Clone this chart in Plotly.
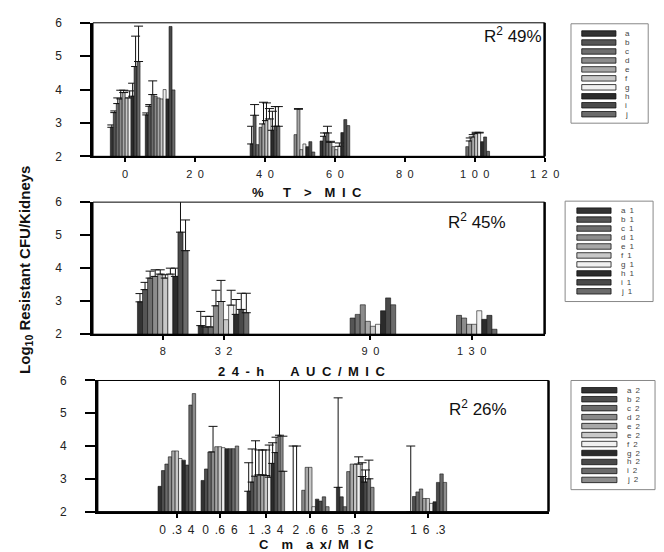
import numpy as np
import plotly.graph_objects as go

# ---------------- Panel 1 : % T > MIC ----------------
t_mic = [0, 10, 40, 50, 60, 100]
t_ticks = [0, 20, 40, 60, 80, 100, 120]
t_tick_text = ["0", "2 0", "4 0", "6 0", "8 0", "1 0 0", "1 2 0"]
t_names = ["a", "b", "c", "d", "e", "f", "g", "h", "i", "j"]
t_heights = [
    [2.87, 3.24, 2.37, None, 2.46, None],
    [3.31, 3.50, 3.23, None, 2.60, None],
    [3.58, 3.85, 2.35, None, 2.70, 2.29],
    [3.72, 3.80, 2.87, 2.65, 2.42, 2.46],
    [3.91, 3.75, 2.97, 3.41, 2.29, 2.58],
    [3.75, 3.72, 3.07, 2.20, 2.20, 2.68],
    [3.75, 4.00, 3.12, 2.37, 2.30, 2.70],
    [3.80, 3.72, 2.78, 2.29, 2.71, 2.44],
    [4.69, 5.89, 2.90, 2.44, 3.10, 2.58],
    [4.84, 3.99, 2.90, 2.13, 2.92, 2.15],
]
t_errors = [
    [0.07, 0.06, 0.53, None, None, None],
    [0.05, 0.05, 0.32, None, 0.10, None],
    [0.17, 0.41, None, None, 0.20, None],
    [0.26, None, None, None, 0.03, 0.09],
    [0.07, None, 0.65, 0.02, None, 0.07],
    [None, None, 0.53, None, None, 0.04],
    [0.21, None, 0.31, None, 0.10, 0.02],
    [0.39, None, 0.57, None, None, None],
    [0.91, None, 0.59, None, None, None],
    [1.06, None, 0.59, None, None, None],
]

# ---------------- Panel 2 : 24-h AUC / MIC ----------------
auc_mic = [8, 32, 90, 130]
auc_ticks = [8, 32, 90, 130]
auc_tick_text = ["8", "3 2", "9 0", "1 3 0"]
auc_names = ["a 1", "b 1", "c 1", "d 1", "e 1", "f 1", "g 1", "h 1", "i 1", "j 1"]
auc_heights = [
    [2.98, 2.26, None, None],
    [3.35, 2.22, 2.49, None],
    [3.70, 2.22, 2.60, 2.57],
    [3.75, 2.86, 2.89, 2.49],
    [3.82, 2.99, 2.39, 2.30],
    [3.70, 2.44, 2.24, 2.30],
    [3.82, 2.88, 2.30, 2.71],
    [3.75, 2.60, 2.71, 2.45],
    [5.09, 2.75, 3.10, 2.57],
    [4.53, 2.65, 2.89, 2.15],
]
auc_errors = [
    [0.25, 0.43, None, None],
    [0.22, 0.32, None, None],
    [0.21, 0.32, None, None],
    [0.20, 0.47, None, None],
    [0.13, 0.64, None, None],
    [0.10, None, None, None],
    [0.18, 0.45, None, None],
    [0.25, 0.45, None, None],
    [1.50, 0.49, None, None],
    [0.93, 0.59, None, None],
]

# ---------------- Panel 3 : Cmax / MIC ----------------
cmax_mic = [0.34, 0.66, 1.34, 2.66, 5.32, 16.3]
cmax_ticks = [0.34, 0.66, 1.34, 2.66, 5.32, 16.3]
cmax_tick_text = ["0 .3 4", "0 .6 6", "1 .3 4", "2 .6 6", "5 .3 2", "1 6 .3"]
cmax_names = ["a 2", "b 2", "c 2", "d 2", "e 2", "e 2", "f 2", "g 2", "h 2", "i 2", "j 2"]
cmax_heights = [
    [2.77, 2.95, 2.62, 2.00, 2.74, 2.00],
    [3.25, 3.30, 2.90, 2.00, 2.45, 2.46],
    [3.45, 3.82, 3.08, None, 2.15, 2.60],
    [3.67, 3.82, 3.12, 2.65, 3.22, 2.69],
    [3.85, 3.98, 3.12, 3.35, 3.45, 2.40],
    [3.85, 3.98, 3.10, 3.35, 3.45, 2.40],
    [3.62, 3.95, 3.05, 2.15, 3.45, 2.25],
    [3.57, 3.92, 3.47, 2.38, 3.07, 2.30],
    [3.42, 3.92, 3.80, 2.32, 2.90, 2.89],
    [5.25, 3.92, 4.33, 2.45, 3.00, 3.15],
    [5.60, 4.00, 3.23, 2.15, 2.74, 2.89],
]
cmax_errors = [
    [None, None, 0.87, 2.00, 2.73, 2.00],
    [None, None, 1.01, 2.00, None, None],
    [None, None, 1.08, None, None, None],
    [None, 0.78, 0.76, None, None, None],
    [None, None, 0.76, None, None, None],
    [None, None, 0.78, None, None, None],
    [None, None, 0.98, None, 0.22, None],
    [None, None, 0.63, None, 0.42, None],
    [None, None, 0.47, None, 0.37, None],
    [None, None, 2.20, None, 0.57, None],
    [None, None, 1.07, None, None, None],
]

r2_texts = ["R<sup>2</sup> 49%", "R<sup>2</sup> 45%", "R<sup>2</sup> 26%"]

# ---------------- styling ----------------
W, H = 664, 552
FONT = "Liberation Sans, Arial, sans-serif"
greys10 = ["#333333", "#555555", "#6e6e6e", "#8c8c8c", "#a8a8a8",
           "#c8c8c8", "#f0f0f0", "#2b2b2b", "#4a4a4a", "#6b6b6b"]
greys11 = ["#333333", "#4d4d4d", "#6b6b6b", "#8a8a8a", "#a8a8a8", "#c8c8c8",
           "#f0f0f0", "#2b2b2b", "#4a4a4a", "#6b6b6b", "#8c8c8c"]


def px(x):
    return x / W


def py(y):
    return 1 - y / H


def spaced(s):
    return s.replace(" ", "\u2002")


fig = go.Figure()


def add_panel(axn, xs, heights, errors, colors, width):
    n = len(heights)
    for i, (h, e, c) in enumerate(zip(heights, errors, colors)):
        fig.add_trace(go.Bar(
            x=xs, y=h, width=width, offset=-n * width / 2 + i * width,
            marker=dict(color=c, line=dict(color="#111111", width=0.6)),
            error_y=dict(type="data", symmetric=False,
                         array=[("NaN" if v is None else v) for v in e],
                         color="#111111", thickness=1, width=4.5),
            xaxis="x" + axn, yaxis="y" + axn,
            showlegend=False, hoverinfo="skip"))


add_panel("", t_mic, t_heights, t_errors, greys10, 0.85)
add_panel("2", auc_mic, auc_heights, auc_errors, greys10, 2.0)
add_panel("3", list(np.log10(cmax_mic)), cmax_heights, cmax_errors, greys11, 0.0229)

# panel geometry (pixels)
geo = [
    dict(x0=87, x1=549, y0=8, y1=145, xr=[-9.2, 120],
         tv=t_ticks, tt=t_tick_text, fs=11),
    dict(x0=87, x1=549, y0=192, y1=327.5, xr=[-19.54, 158.8],
         tv=auc_ticks, tt=auc_tick_text, fs=11),
    dict(x0=92, x1=553, y0=375, y1=509.5, xr=[-0.997, 2.02],
         tv=list(np.log10(cmax_ticks)), tt=cmax_tick_text, fs=12),
]

layout = dict(
    width=W, height=H, margin=dict(l=0, r=0, t=0, b=0),
    paper_bgcolor="white", plot_bgcolor="white",
    barmode="overlay", font=dict(family=FONT, color="#222222"),
    shapes=[], annotations=[],
)

for k, g in enumerate(geo):
    sfx = "" if k == 0 else str(k + 1)
    layout["xaxis" + sfx] = dict(
        domain=[px(g["x0"]), px(g["x1"])], range=g["xr"],
        anchor="y" + sfx, tickmode="array", tickvals=g["tv"],
        ticktext=[spaced(t) for t in g["tt"]],
        ticks="outside", ticklen=4, tickwidth=2, tickcolor="black",
        showline=True, linewidth=2, linecolor="black",
        showgrid=False, zeroline=False, ticklabelstandoff=2,
        tickfont=dict(size=g["fs"], family=FONT, color="#222222"),
        fixedrange=True)
    layout["yaxis" + sfx] = dict(
        domain=[py(g["y1"]), py(g["y0"])], range=[2, 6],
        anchor="x" + sfx, tickmode="array", tickvals=[2, 3, 4, 5, 6],
        ticks="outside", ticklen=10, tickwidth=2, tickcolor="black",
        showline=True, linewidth=2.5, linecolor="black",
        showgrid=False, zeroline=False, ticklabelstandoff=16,
        tickfont=dict(size=12, family=FONT, color="#222222"),
        fixedrange=True)
    xd = ("x" + sfx) + " domain"
    yd = ("y" + sfx) + " domain"
    layout["shapes"].append(dict(type="rect", xref=xd, yref=yd, x0=0, x1=1, y0=0, y1=1,
                                 line=dict(color="black", width=1)))
    layout["shapes"].append(dict(type="line", xref=xd, yref=yd, x0=1, x1=1, y0=0, y1=1,
                                 line=dict(color="black", width=2.5)))

# R^2 labels
for (xx, yy), txt in zip([(517, 21), (480, 211), (481, 403)], r2_texts):
    layout["annotations"].append(dict(
        x=px(xx), y=py(yy), xref="paper", yref="paper", text=txt, showarrow=False,
        font=dict(size=17, family=FONT, color="#111111"),
        xanchor="center", yanchor="middle"))

# axis titles
titles = [
    ("%\u2003\u2002T\u2003>\u2003M\u2002I\u2002C", 306, 182),
    ("2\u20024\u2002-\u2002h\u2003\u2003A\u2002U\u2002C\u2002/\u2002M\u2002I\u2002C", 300, 366),
    ("C\u2003m\u2003a\u2002x\u200a/\u2002M\u2002\u2009I\u2009C", 316, 543),
]
for txt, xx, yy in titles:
    layout["annotations"].append(dict(
        x=px(xx), y=py(yy), xref="paper", yref="paper", text="<b>" + txt + "</b>",
        showarrow=False, font=dict(size=13, family=FONT, color="#111111"),
        xanchor="center", yanchor="middle"))

layout["annotations"].append(dict(
    x=px(18), y=py(262), xref="paper", yref="paper",
    text="<b>Log<sub>10</sub> Resistant CFU/Kidneys</b>", textangle=-90,
    showarrow=False, font=dict(size=15, family=FONT, color="#111111"),
    xanchor="center", yanchor="middle"))

# manual legends
legends = [
    dict(box=(576, 9, 655, 111), rx=(587, 622), y0=19, lx=629, names=t_names, colors=greys10),
    dict(box=(570, 191, 660, 294), rx=(582, 617), y0=200.7, lx=625, names=auc_names, colors=greys10),
    dict(box=(576, 375, 662, 487), rx=(587, 623), y0=385, lx=631, names=cmax_names, colors=greys11),
]
STEP = 9.2
for lg in legends:
    bx0, by0, bx1, by1 = lg["box"]
    layout["shapes"].append(dict(type="rect", xref="paper", yref="paper",
                                 x0=px(bx0), x1=px(bx1), y0=py(by1), y1=py(by0),
                                 line=dict(color="#888888", width=1)))
    for i, (nm, c) in enumerate(zip(lg["names"], lg["colors"])):
        yc = lg["y0"] + i * STEP
        layout["shapes"].append(dict(type="rect", xref="paper", yref="paper",
                                     x0=px(lg["rx"][0]), x1=px(lg["rx"][1]),
                                     y0=py(yc + 2.8), y1=py(yc - 2.8),
                                     fillcolor=c, line=dict(color="#111111", width=0.8)))
        layout["annotations"].append(dict(
            x=px(lg["lx"]), y=py(yc), xref="paper", yref="paper",
            text=spaced(nm), showarrow=False, xanchor="left", yanchor="middle",
            font=dict(size=8, family=FONT, color="#444444")))

fig.update_layout(**layout)
fig.write_html("out.html")
